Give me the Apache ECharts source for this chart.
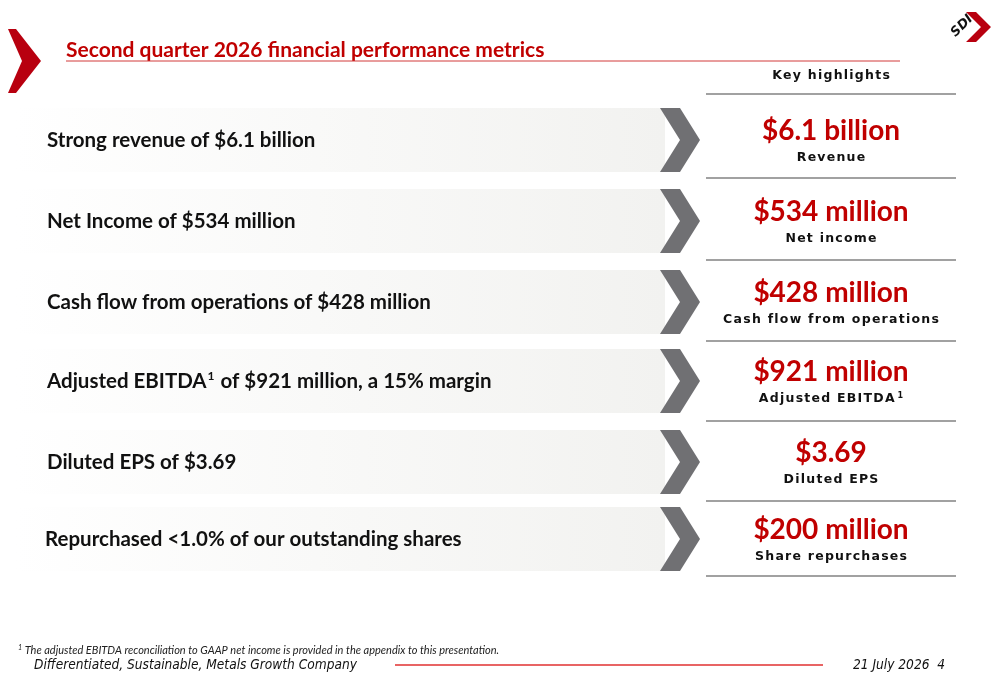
<!DOCTYPE html>
<html>
<head>
<meta charset="utf-8">
<script src="https://cdn.jsdelivr.net/npm/echarts@6.0.0/dist/echarts.min.js"></script>
<style>html,body{margin:0;padding:0;background:#fff}#main{width:1000px;height:685px}</style>
</head>
<body>
<div id="main"></div>
<script>
// slide content
const title = "Second quarter 2026 financial performance metrics";
const statements = [
    "Strong revenue of $6.1 billion",
    "Net Income of $534 million",
    "Cash flow from operations of $428 million",
    "Adjusted EBITDA{sup|1} of $921 million, a 15% margin",
    "Diluted EPS of $3.69",
    "Repurchased <1.0% of our outstanding shares"
];
const values = ["$6.1 billion", "$534 million", "$428 million", "$921 million", "$3.69", "$200 million"];
const metrics = ["Revenue", "Net income", "Cash flow from operations", "Adjusted EBITDA{sup|1}", "Diluted EPS", "Share repurchases"];
const rowCenters = [140, 221, 302, 381, 462, 539];
const separators = [94, 178, 260, 341, 421, 501, 576];

const RED = "#c00000";
const FONT = "Lato, 'DejaVu Sans', sans-serif";
const elements = [];

function spaced(s) {
    return s.split(/(\{sup\|1\})/).map(function (p) {
        return p === "{sup|1}" ? p : p.split("").join("\u200A");
    }).join("");
}

// left red chevron
elements.push({ type: "polygon", shape: { points: [[8, 29], [16, 29], [41, 61], [16, 93], [8, 93], [22, 61]] }, style: { fill: "#b8000f" } });
// logo
elements.push({ type: "polygon", shape: { points: [[966, 12], [976, 12], [991, 27], [976, 42], [966, 42], [981, 27]] }, style: { fill: "#b8000f" } });
elements.push({ type: "text", x: 962, y: 26, rotation: Math.PI / 4, style: { text: "SDI", font: "bold italic 13px 'DejaVu Sans'", fill: "#111", align: "center", verticalAlign: "middle" } });

elements.push({ type: "text", x: 66, y: 50, style: { text: title, font: "bold 21px " + FONT, fill: RED, verticalAlign: "middle" } });
elements.push({ type: "line", shape: { x1: 66, y1: 61, x2: 900, y2: 61 }, style: { stroke: "#d23a3a", lineWidth: 1 } });
elements.push({ type: "text", x: 831, y: 76, style: { text: spaced("Key highlights"), font: "bold 12.5px 'DejaVu Sans'", fill: "#111", align: "center", verticalAlign: "middle" } });

separators.forEach(function (y) {
    elements.push({ type: "line", shape: { x1: 706, y1: y, x2: 956, y2: y }, style: { stroke: "#444", lineWidth: 1.2 } });
});

rowCenters.forEach(function (cy, i) {
    elements.push({
        type: "rect", shape: { x: 15, y: cy - 32, width: 650, height: 64 },
        style: { fill: new echarts.graphic.LinearGradient(0, 0, 1, 0, [{ offset: 0, color: "#ffffff" }, { offset: 1, color: "#f2f2f0" }]) }
    });
    elements.push({ type: "polygon", shape: { points: [[660, cy - 32], [680, cy - 32], [700, cy], [680, cy + 32], [660, cy + 32], [680, cy]] }, style: { fill: "#707073" } });
    elements.push({ type: "text", x: i === 5 ? 45 : 47, y: cy, style: { text: statements[i], rich: { sup: { font: "bold 12px " + FONT, fill: "#111", padding: [0, 1, 9, 1] } }, font: "bold 20.5px " + FONT, fill: "#111", verticalAlign: "middle" } });
    elements.push({ type: "text", x: 831, y: cy - 9, style: { text: values[i], font: "bold 28px " + FONT, fill: RED, align: "center", verticalAlign: "middle" } });
    elements.push({ type: "text", x: 831, y: cy + 18, style: { text: spaced(metrics[i]), rich: { sup: { font: "bold 8px 'DejaVu Sans'", fill: "#111", padding: [0, 0, 6, 3] } }, font: "bold 12.5px 'DejaVu Sans'", fill: "#111", align: "center", verticalAlign: "middle" } });
});

// footer
elements.push({ type: "text", x: 18, y: 650, style: { text: "{s|1} The adjusted EBITDA reconciliation to GAAP net income is provided in the appendix to this presentation.", rich: { s: { font: "italic 7px " + FONT, padding: [0, 0, 5, 0] } }, font: "italic 11px " + FONT, fill: "#222", verticalAlign: "middle" } });
elements.push({ type: "text", x: 34, y: 665, style: { text: "Differentiated, Sustainable, Metals Growth Company", font: "italic 13.6px 'DejaVu Sans Condensed', sans-serif", fill: "#111", verticalAlign: "middle" } });
elements.push({ type: "line", shape: { x1: 395, y1: 665, x2: 823, y2: 665 }, style: { stroke: "#e03030", lineWidth: 1.5 } });
elements.push({ type: "text", x: 945, y: 665, style: { text: "21 July 2026  4", font: "italic 13.6px 'DejaVu Sans Condensed', sans-serif", fill: "#111", align: "right", verticalAlign: "middle" } });

const chart = echarts.init(document.getElementById("main"));
chart.setOption({ animation: false, backgroundColor: "#fff", graphic: { elements: elements } });
</script>
</body>
</html>
